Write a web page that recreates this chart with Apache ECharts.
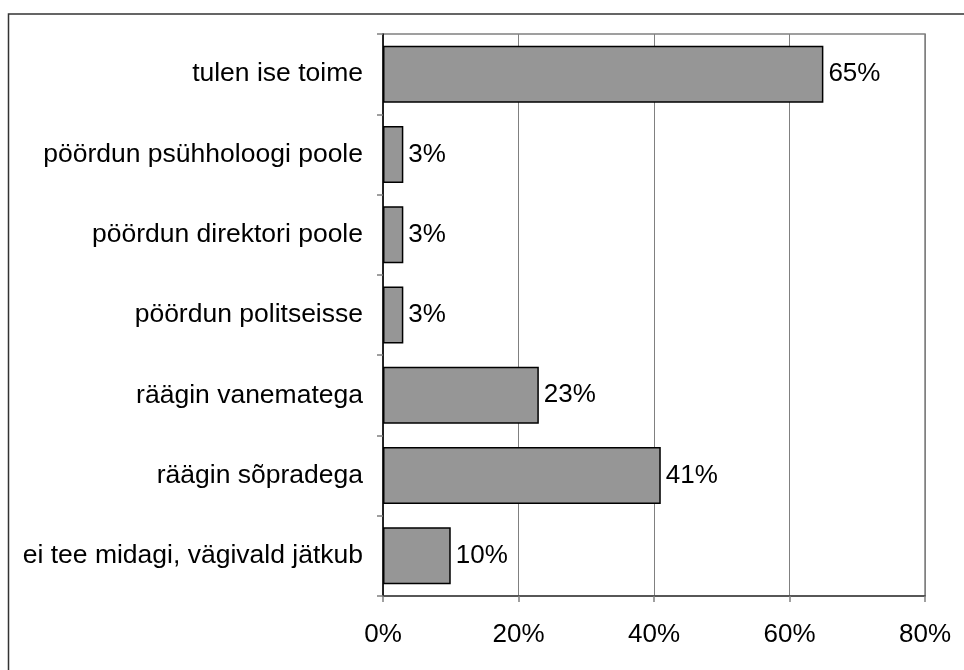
<!DOCTYPE html>
<html>
<head>
<meta charset="utf-8">
<script src="https://cdn.jsdelivr.net/npm/echarts@6/dist/echarts.min.js"></script>
<style>
    html, body { margin: 0; padding: 0; background: #fff; }
    #chart { width: 964px; height: 670px; }
</style>
</head>
<body>
<div id="chart"></div>
<script>
const categories = [
    'tulen ise toime',
    'pöördun psühholoogi poole',
    'pöördun direktori poole',
    'pöördun politseisse',
    'räägin vanematega',
    'räägin sõpradega',
    'ei tee midagi, vägivald jätkub'
];
const values = [65, 3, 3, 3, 23, 41, 10];

const chart = echarts.init(document.getElementById('chart'));

const font = 'Liberation Sans, Arial, sans-serif';

chart.setOption({
    animation: false,
    grid: {
        left: 383,
        top: 34,
        right: 39,
        bottom: 74,
        show: true,
        borderColor: '#808080',
        borderWidth: 1.5
    },
    graphic: [
        {
            type: 'polyline',
            shape: { points: [[8.5, 670], [8.5, 14], [964, 14]] },
            style: { stroke: '#333', lineWidth: 1.5, fill: null }
        }
    ],
    xAxis: {
        type: 'value',
        min: 0,
        max: 80,
        interval: 20,
        axisLine: { show: true, lineStyle: { color: '#404040', width: 1.5 } },
        axisTick: { show: true, length: 6, lineStyle: { color: '#808080', width: 1.5 } },
        splitLine: { show: true, lineStyle: { color: '#808080', width: 1 } },
        axisLabel: {
            formatter: '{value}%',
            color: '#000',
            fontSize: 26,
            fontFamily: font,
            margin: 26
        }
    },
    yAxis: {
        type: 'category',
        data: categories,
        inverse: true,
        axisLine: { show: true, lineStyle: { color: '#000', width: 1.5 } },
        axisTick: { show: true, length: 6, lineStyle: { color: '#808080', width: 1.5 } },
        axisLabel: {
            color: '#000',
            fontSize: 26.5,
            fontFamily: font,
            margin: 20
        }
    },
    series: [
        {
            type: 'bar',
            data: values,
            barCategoryGap: '29%',
            itemStyle: {
                color: '#969696',
                borderColor: '#000',
                borderWidth: 1.5
            },
            label: {
                show: true,
                position: 'right',
                distance: 5,
                formatter: '{c}%',
                color: '#000',
                fontSize: 26,
                fontFamily: font
            }
        }
    ]
});
</script>
</body>
</html>
